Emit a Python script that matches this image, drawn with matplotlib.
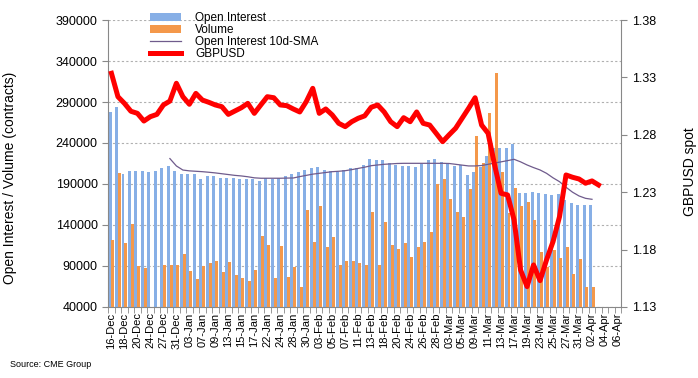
import numpy as np
import matplotlib
matplotlib.use("Agg")
import matplotlib.pyplot as plt

plt.rcParams['font.family'] = ['Liberation Sans', 'DejaVu Sans']

# categories (business days, plus a few empty days at the end)
dates = ["16-Dec", "17-Dec", "18-Dec", "19-Dec", "20-Dec", "23-Dec", "24-Dec", "26-Dec", "27-Dec", "30-Dec",
         "31-Dec", "02-Jan", "03-Jan", "06-Jan", "07-Jan", "08-Jan", "09-Jan", "10-Jan", "13-Jan", "14-Jan",
         "15-Jan", "16-Jan", "17-Jan", "21-Jan", "22-Jan", "23-Jan", "24-Jan", "27-Jan", "28-Jan", "29-Jan",
         "30-Jan", "31-Jan", "03-Feb", "04-Feb", "05-Feb", "06-Feb", "07-Feb", "10-Feb", "11-Feb", "12-Feb",
         "13-Feb", "14-Feb", "18-Feb", "19-Feb", "20-Feb", "21-Feb", "24-Feb", "25-Feb", "26-Feb", "27-Feb",
         "28-Feb", "02-Mar", "03-Mar", "04-Mar", "05-Mar", "06-Mar", "09-Mar", "10-Mar", "11-Mar", "12-Mar",
         "13-Mar", "16-Mar", "17-Mar", "18-Mar", "19-Mar", "20-Mar", "23-Mar", "24-Mar", "25-Mar", "26-Mar",
         "27-Mar", "30-Mar", "31-Mar", "01-Apr", "02-Apr", "03-Apr", "04-Apr", "05-Apr", "06-Apr"]

open_interest = [278000, 284000, 202200, 206000, 206000, 206000, 205000, 206000, 209100, 212000,
                 206000, 202200, 202200, 202200, 196100, 200200, 199400, 197700, 197700, 196900,
                 196100, 196100, 196100, 193700, 196900, 196100, 197700, 199400, 201800, 205000,
                 207100, 209100, 210700, 207500, 205900, 205000, 207500, 209100, 209900, 213200,
                 220500, 218900, 219700, 215600, 213200, 211500, 211500, 210700, 214000, 219700,
                 220500, 217200, 214800, 211500, 213200, 201000, 205000, 211100, 224500, 234300,
                 234000, 234000, 238800, 179400, 178600, 179900, 178600, 177800, 176600, 177800,
                 170500, 166500, 164400, 164400, 164400]

volume = [121700, 203800, 118400, 141600, 90400, 88000, 30000, 30000, 91200, 91200,
          91200, 105000, 84300, 74100, 90400, 93700, 96100, 82300, 95300, 79500,
          75000, 71700, 85100, 127000, 115600, 75000, 114800, 76600, 88400, 64800,
          158300, 118900, 163200, 113200, 125400, 91200, 96100, 96100, 93700, 91200,
          155400, 91200, 143200, 115600, 110300, 118000, 100500, 113200, 118900, 131500,
          189600, 196100, 172000, 156000, 150000, 184000, 248500, 215600, 276200, 325000,
          205000, 154000, 185000, 163200, 168400, 146100, 107400, 89100, 110000, 100000,
          113000, 80000, 98000, 64800, 64800]

# 10d SMA of open interest, starts at the 10th day
oi_sma = [221000, 212000, 207000, 206000, 205500, 205000, 204300, 203500, 202500, 201500,
          200500, 199800, 198800, 197500, 197000, 197000, 197000, 197000, 197200, 197300,
          199000, 200500, 202000, 203000, 204000, 205000, 205500, 206200, 207500, 209000,
          210500, 212300, 213200, 214000, 214500, 215000, 215200, 215200, 215200, 215200,
          215200, 215200, 215200, 215000, 214000, 213000, 212000, 212000, 212500, 214000,
          215500, 217000, 218500, 220100, 217000, 213200, 210000, 207100, 203000, 197500,
          192800, 186000, 180000, 175400, 172500, 171300]

gbpusd = [1.3336, 1.3132, 1.3074, 1.3005, 1.2987, 1.2920, 1.2958, 1.2978, 1.3060, 1.3094,
          1.3249, 1.3132, 1.3066, 1.3161, 1.3103, 1.3083, 1.3060, 1.3045, 1.2978, 1.3007,
          1.3036, 1.3074, 1.2987, 1.3060, 1.3132, 1.3123, 1.3060, 1.3054, 1.3025, 1.2999,
          1.3089, 1.3205, 1.2987, 1.3025, 1.2973, 1.2900, 1.2871, 1.2914, 1.2944, 1.2965,
          1.3040, 1.3060, 1.2999, 1.2914, 1.2871, 1.2949, 1.2914, 1.2999, 1.2900, 1.2885,
          1.2813, 1.2740, 1.2800, 1.2857, 1.2944, 1.3031, 1.3123, 1.2885, 1.2813, 1.2537,
          1.2290, 1.2276, 1.2058, 1.1622, 1.1477, 1.1666, 1.1529, 1.1710, 1.1869, 1.2087,
          1.2450, 1.2430, 1.2415, 1.2378, 1.2398, 1.2363]

x = np.arange(len(dates))
x_oi = np.arange(len(open_interest))
x_sma = np.arange(len(open_interest) - len(oi_sma), len(open_interest))
x_fx = np.arange(len(gbpusd))

fig = plt.figure(figsize=(6.98, 3.78), dpi=100)
ax1 = fig.add_axes([0.155, 0.188, 0.735, 0.759])
ax2 = ax1.twinx()

b1 = ax1.bar(x_oi - 0.22, open_interest, width=0.46, color='#87afe6', zorder=2)
b2 = ax1.bar(x_oi + 0.22, volume, width=0.46, color='#f4984a', zorder=3)
l1, = ax1.plot(x_sma, oi_sma, color='#6f5b8c', lw=0.9, zorder=4)
l2, = ax2.plot(x_fx, gbpusd, color='#ff0000', lw=3.6, solid_joinstyle='round')

ax1.set_xlim(-0.5, len(dates) - 0.5)
ax1.set_ylim(40000, 390000)
ax1.set_yticks(range(40000, 390001, 50000))
ax1.grid(axis='y', color='#b0b0b0', linestyle=(0, (2, 2)), lw=0.8, zorder=0)
ax1.set_axisbelow(True)
ax2.set_ylim(1.13, 1.38)
ax2.set_yticks(np.arange(1.13, 1.3801, 0.05))
ax2.set_yticklabels(["%.2f" % v for v in np.arange(1.13, 1.3801, 0.05)])

ax1.set_xticks(x[::2])
ax1.set_xticklabels(dates[::2], rotation=90, fontsize=8)
ax1.set_xticks(np.arange(-0.5, len(dates), 1), minor=True)
ax1.tick_params(axis='x', which='major', length=0, pad=4)
ax1.tick_params(axis='x', which='minor', length=4, color='#888888')
ax1.tick_params(axis='y', labelsize=9, length=4, color='#888888')
ax2.tick_params(axis='y', labelsize=9, length=4, color='#888888')

for ax in (ax1, ax2):
    for s in ax.spines.values():
        s.set_color('#888888')
    ax.spines['top'].set_visible(False)
ax1.spines['right'].set_visible(False)
ax2.spines['left'].set_visible(False)
ax2.spines['bottom'].set_visible(False)

ax1.set_ylabel("Open Interest / Volume (contracts)", fontsize=10)
ax1.yaxis.set_label_coords(-0.177, 0.45)
ax2.set_ylabel("GBPUSD spot", fontsize=10)
ax2.yaxis.set_label_coords(1.121, 0.47)

ax2.legend([b1, b2, l1, l2], ["Open Interest", "Volume", "Open Interest 10d-SMA", "GBPUSD"],
           loc='upper left', bbox_to_anchor=(0.073, 1.043), frameon=False, fontsize=8.5,
           handlelength=2.6, labelspacing=0.0, handletextpad=1.2, borderaxespad=0)

fig.text(0.014, 0.03, "Source: CME Group", fontsize=6.5)

fig.savefig("out.png", dpi=100)
